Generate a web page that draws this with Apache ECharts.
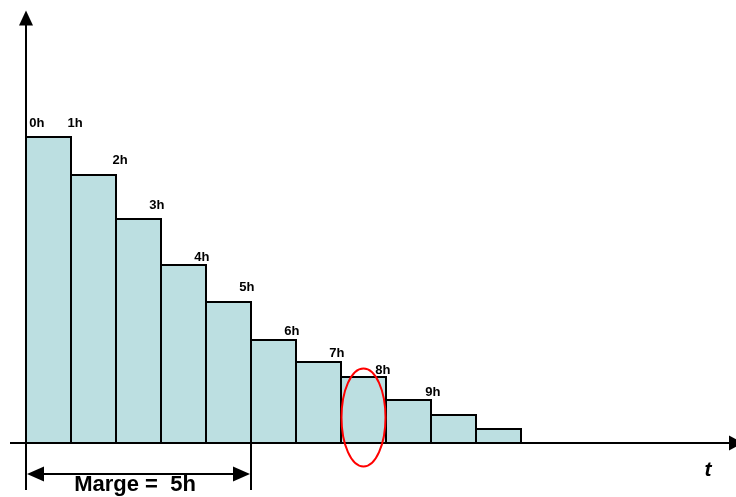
<!DOCTYPE html>
<html>
<head>
<meta charset="utf-8">
<script src="https://cdn.jsdelivr.net/npm/echarts@6/dist/echarts.min.js"></script>
<style>
html,body{margin:0;padding:0;background:#fff;}
#chart{width:736px;height:497px;}
</style>
</head>
<body>
<div id="chart"></div>
<script>
// Data
const hours = [0, 1, 2, 3, 4, 5, 6, 7, 8, 9, 10];
const values = [306, 268, 224, 178, 141, 103, 81, 66, 43, 28, 14];
const labelNames = ['0h', '1h', '2h', '3h', '4h', '5h', '6h', '7h', '8h', '9h'];
const labelX = [0.24, 1.09, 2.09, 2.91, 3.91, 4.91, 5.91, 6.91, 7.93, 9.04];
const labelY = [320, 320, 283, 238, 186, 156, 112, 90, 73, 51];
const margeHours = 5;
const highlightHour = 7;

const FONT = '"Liberation Sans", Arial, sans-serif';
const chart = echarts.init(document.getElementById('chart'));

const barData = hours.map((h, i) => [h, values[i]]);
const labelData = labelNames.map((n, i) => ({ value: [labelX[i], labelY[i]], name: n }));

chart.setOption({
  animation: false,
  backgroundColor: '#ffffff',
  grid: { left: 26, right: 0, top: 18, bottom: 54 },
  xAxis: {
    type: 'value', min: 0, max: 710 / 45,
    axisLine: { show: true, lineStyle: { color: '#000', width: 2 }, symbol: ['none', 'triangle'], symbolSize: [15, 14] },
    axisTick: { show: false }, axisLabel: { show: false }, splitLine: { show: false }
  },
  yAxis: {
    type: 'value', min: 0, max: 425,
    axisLine: { show: true, lineStyle: { color: '#000', width: 2 }, symbol: ['none', 'triangle'], symbolSize: [14, 15] },
    axisTick: { show: false }, axisLabel: { show: false }, splitLine: { show: false }
  },
  series: [
    {
      type: 'custom',
      data: barData,
      renderItem: function (params, api) {
        const h = api.value(0), v = api.value(1);
        const p0 = api.coord([h, v]);
        const p1 = api.coord([h + 1, 0]);
        return {
          type: 'rect',
          shape: { x: p0[0], y: p0[1], width: p1[0] - p0[0], height: p1[1] - p0[1] },
          style: { fill: '#bcdfe1', stroke: '#000', lineWidth: 2 }
        };
      },
      z: 2
    },
    {
      type: 'scatter',
      data: labelData,
      symbolSize: 0,
      itemStyle: { opacity: 1 },
      label: {
        show: true, position: 'inside', formatter: p => p.name,
        fontFamily: FONT, fontWeight: 'bold', fontSize: 13, color: '#000',
        textBorderWidth: 0, opacity: 1
      },
      z: 5
    }
  ]
});

function px(h, v) { return chart.convertToPixel({ gridIndex: 0 }, [h, v]); }
const base = px(0, 0);
const xa = base[0];
const xb = px(margeHours, 0)[0];
const yBase = base[1];
const yArr = yBase + 31;
const cEll = px(highlightHour + 0.5, 25.5);

chart.setOption({
  graphic: [
    { type: 'line', shape: { x1: 10, y1: yBase, x2: xa, y2: yBase }, style: { stroke: '#000', lineWidth: 2 }, z: 10 },
    { type: 'line', shape: { x1: xa, y1: yBase, x2: xa, y2: yBase + 47 }, style: { stroke: '#000', lineWidth: 2 }, z: 10 },
    { type: 'line', shape: { x1: xb, y1: yBase, x2: xb, y2: yBase + 47 }, style: { stroke: '#000', lineWidth: 2 }, z: 10 },
    { type: 'line', shape: { x1: xa + 14, y1: yArr, x2: xb - 14, y2: yArr }, style: { stroke: '#000', lineWidth: 2 }, z: 10 },
    { type: 'polygon', shape: { points: [[xa + 1, yArr], [xa + 18, yArr - 7.5], [xa + 18, yArr + 7.5]] }, style: { fill: '#000' }, z: 10 },
    { type: 'polygon', shape: { points: [[xb - 1, yArr], [xb - 18, yArr - 7.5], [xb - 18, yArr + 7.5]] }, style: { fill: '#000' }, z: 10 },
    { type: 'text', style: { text: 'Marge =  5h', x: 135, y: 485, align: 'center', verticalAlign: 'middle', font: 'bold 22px ' + FONT, fill: '#000' }, z: 10 },
    { type: 'ellipse', shape: { cx: cEll[0], cy: cEll[1], rx: 22, ry: 49 }, style: { fill: 'none', stroke: '#ff0000', lineWidth: 2 }, z: 10 },
    { type: 'text', style: { text: 't', x: 708, y: 470, align: 'center', verticalAlign: 'middle', font: 'italic bold 21px ' + FONT, fill: '#000' }, z: 10 }
  ]
});
</script>
</body>
</html>
